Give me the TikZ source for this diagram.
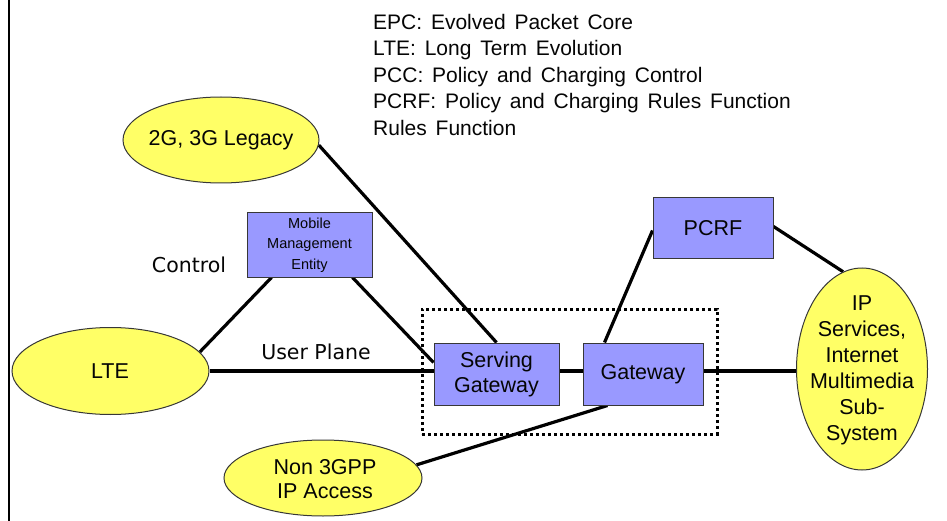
\documentclass[tikz,border=0pt]{standalone}
\usepackage{fontspec}
\setmainfont{Liberation Sans}
\newfontfamily\planefont{DejaVu Sans}
\usetikzlibrary{shapes.geometric,calc}
\pgfdeclarelayer{background}
\pgfsetlayers{background,main}
\definecolor{zoneyellow}{RGB}{255,255,102}
\definecolor{unitblue}{RGB}{153,153,255}
\definecolor{rimgray}{RGB}{55,55,55}
\definecolor{inkblack}{RGB}{5,5,5}
\newcommand{\legendfont}{\fontsize{21}{26.5}\selectfont\spaceskip=0.42em\relax}

\begin{document}
\begin{tikzpicture}[x=1pt,y=-1pt,
  zone/.style={ellipse, draw=rimgray, line width=1pt, fill=zoneyellow, inner sep=0pt},
  words/.style={align=center, inner sep=0pt, text=inkblack, font=\fontsize{21.5}{26}\selectfont},
  unit/.style={rectangle, draw=rimgray, line width=1pt, fill=unitblue, inner sep=0pt,
    align=center, text=inkblack, font=\fontsize{21.5}{25}\selectfont},
  link/.style={line width=3.2pt, black},
  planelabel/.style={inner sep=0pt, text=inkblack, font=\planefont\fontsize{20.5}{24}\selectfont}]

\useasboundingbox (0,0) rectangle (947,521);

% left frame edge
\draw[line width=2.6pt] (9,0) -- (9,521);

% legend
\node[anchor=north west, align=left, inner sep=0pt, text=inkblack,
  font=\legendfont] (legend) at (373,14)
  {EPC: Evolved Packet Core\\
   LTE: Long Term Evolution\\
   PCC: Policy and Charging Control\\
   PCRF: Policy and Charging Rules Function\\
   Rules Function};

% evolved packet core boundary
\node[draw, line width=3pt, dash pattern=on 3pt off 3pt,
  minimum width=295pt, minimum height=125pt, inner sep=0pt] (epc) at (569.5,371.5) {};

% access and service zones
\node[zone, minimum width=196pt, minimum height=86pt] (legacy) at (221,140) {};
\node[words] (legacytext) at (221,140) {2G, 3G Legacy};
\node[zone, minimum width=197pt, minimum height=87pt] (lte) at (110.5,371) {};
\node[words] (ltetext) at (110,371) {LTE};
\node[zone, minimum width=198pt, minimum height=76pt] (nonip) at (323,478) {};
\node[words, font=\fontsize{21.5}{24.5}\selectfont] (noniptext) at (325,479) {Non 3GPP\\IP Access};
\node[zone, minimum width=131pt, minimum height=202pt] (ims) at (862,369) {};
\node[words] (imstext) at (862,370)
  {IP\\Services,\\Internet\\Multimedia\\Sub-\\System};

% core units
\node[unit, minimum width=125pt, minimum height=64pt, font=\fontsize{14.5}{20.5}\selectfont]
  (mme) at (309.5,245) {Mobile\\Management\\Entity};
\node[unit, minimum width=125pt, minimum height=62pt] (sgw) at (496.5,374) {Serving\\Gateway};
\node[unit, minimum width=120pt, minimum height=62pt] (gw) at (643,374) {Gateway};
\node[unit, minimum width=120pt, minimum height=61pt] (pcrf) at (713,228.5) {PCRF};

% plane labels
\node[planelabel] (control) at (189,265) {Control};
\node[planelabel] (userplane) at (316,352) {User Plane};

% connectors
\begin{pgfonlayer}{background}
  \draw[link] (legacy.-3) -- (sgw.north);
  \draw[link] ([xshift=25pt]mme.south west) -- (lte.12);
  \draw[link] ([xshift=-20pt]mme.south east) -- ([yshift=-20pt]sgw.north west);
  \draw[link] (lte.east) -- (sgw.west |- lte.east);
  \draw[link] (sgw.east |- lte.east) -- (gw.west |- lte.east);
  \draw[link] (gw.east |- lte.east) -- (ims.west |- lte.east);
  \draw[link] ([yshift=-33pt]pcrf.north west) -- ([xshift=22pt]gw.north west);
  \draw[link] ([yshift=-29pt]pcrf.north east) -- (ims.101);
  \draw[link] ([xshift=25pt]gw.south west) -- (nonip.8);
\end{pgfonlayer}
\end{tikzpicture}
\end{document}
